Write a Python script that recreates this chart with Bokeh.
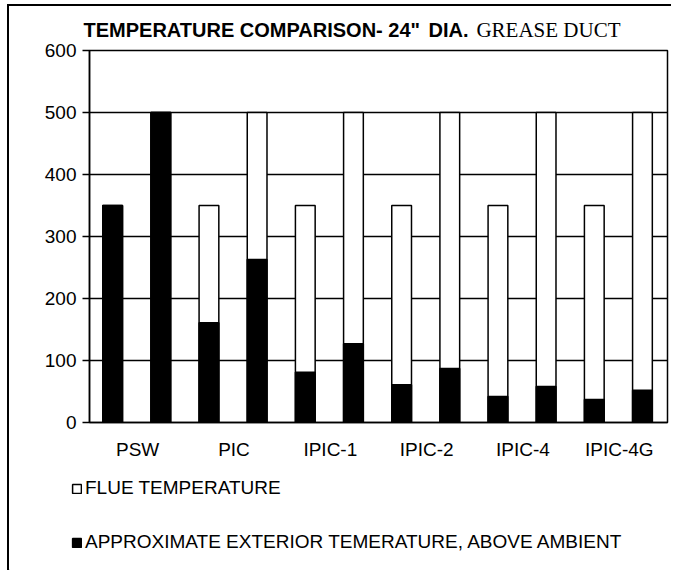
from bokeh.plotting import figure
from bokeh.layouts import column, row
from bokeh.models import FactorRange, Range1d, FixedTicker, Label, Legend, LegendItem, ColumnDataSource
from bokeh.transform import dodge
from bokeh.embed import file_html
from bokeh.resources import INLINE

categories = ["PSW", "PIC", "IPIC-1", "IPIC-2", "IPIC-4", "IPIC-4G"]
flue_temp_a = [350, 350, 350, 350, 350, 350]
flue_temp_b = [500, 500, 500, 500, 500, 500]
exterior_a = [350, 161, 81, 61, 42, 37]
exterior_b = [500, 263, 127, 87, 58, 52]
y_ticks = [0, 100, 200, 300, 400, 500, 600]
title_parts = ['TEMPERATURE COMPARISON- 24"', "DIA.", "GREASE DUCT"]
legend_labels = ["FLUE TEMPERATURE", "APPROXIMATE EXTERIOR TEMERATURE, ABOVE AMBIENT"]

W = 662
BL, BR = 80, 4
FONT = "Liberation Sans"


def blank(h):
    f = figure(width=W, height=h, x_range=Range1d(0, 1), y_range=Range1d(0, 1),
               output_backend="svg", toolbar_location=None, title=None,
               x_axis_location=None, y_axis_location=None,
               min_border=0,
               background_fill_color="white", border_fill_color="white")
    f.outline_line_color = None
    f.xgrid.grid_line_color = None
    f.ygrid.grid_line_color = None
    return f


# ---- title strip ----
TY = 12
t = blank(35)
t.add_layout(Label(x=74, y=TY, x_units="screen", y_units="screen", text=title_parts[0],
                   text_font=FONT, text_font_style="bold", text_font_size="20px",
                   text_color="black", text_baseline="alphabetic"))
t.add_layout(Label(x=419, y=TY, x_units="screen", y_units="screen", text=title_parts[1],
                   text_font=FONT, text_font_style="bold", text_font_size="20px",
                   text_color="black", text_baseline="alphabetic"))
t.add_layout(Label(x=611, y=TY, x_units="screen", y_units="screen", text=title_parts[2],
                   text_font="Liberation Serif", text_font_size="21px", text_color="black",
                   text_align="right", text_baseline="alphabetic"))

# ---- main chart ----
src = ColumnDataSource(dict(cat=categories, fa=flue_temp_a, fb=flue_temp_b, ea=exterior_a, eb=exterior_b))

p = figure(x_range=FactorRange(*categories, range_padding=0), y_range=Range1d(0, 600),
           width=W, height=429, output_backend="svg", toolbar_location=None, title=None,
           min_border_left=BL, min_border_top=9, min_border_right=BR, min_border_bottom=48,
           background_fill_color="white", border_fill_color="white")

bw = 0.205
off_a, off_b = -0.26, 0.24
bar_white = dict(fill_color="white", line_color="black", line_width=1.5)
bar_black = dict(fill_color="black", line_color="black", line_width=1.5)
p.vbar(x=dodge("cat", off_a, range=p.x_range), top="fa", width=bw, source=src, **bar_white)
p.vbar(x=dodge("cat", off_b, range=p.x_range), top="fb", width=bw, source=src, **bar_white)
p.vbar(x=dodge("cat", off_a, range=p.x_range), top="ea", width=bw, source=src, **bar_black)
p.vbar(x=dodge("cat", off_b, range=p.x_range), top="eb", width=bw, source=src, **bar_black)

p.xgrid.grid_line_color = None
p.ygrid.grid_line_color = "black"
p.ygrid.grid_line_width = 1.5
p.ygrid.ticker = FixedTicker(ticks=y_ticks)
p.outline_line_color = "black"
p.outline_line_width = 1.5

p.yaxis.ticker = FixedTicker(ticks=y_ticks)
p.yaxis.axis_line_color = "black"
p.yaxis.axis_line_width = 1.5
p.yaxis.major_tick_out = 7
p.yaxis.major_tick_in = 0
p.yaxis.major_tick_line_width = 1.5
p.yaxis.minor_tick_line_color = None
p.yaxis.major_label_standoff = 6
p.yaxis.major_label_text_font = FONT
p.yaxis.major_label_text_font_size = "19px"
p.yaxis.major_label_text_color = "black"

p.xaxis.axis_line_color = "black"
p.xaxis.axis_line_width = 1.5
p.xaxis.major_tick_line_color = None
p.xaxis.minor_tick_line_color = None
p.xaxis.major_label_standoff = 10
p.xaxis.major_label_text_font = FONT
p.xaxis.major_label_text_font_size = "19px"
p.xaxis.major_label_text_color = "black"

# ---- legend strip ----
lg = blank(100)
r_w = lg.vbar(x=[-5], top=[0], width=0.1, **bar_white)
r_b = lg.vbar(x=[-5], top=[0], width=0.1, **bar_black)
legend = Legend(items=[LegendItem(label=legend_labels[0], renderers=[r_w]),
                       LegendItem(label=legend_labels[1], renderers=[r_b])],
                location=(62, 17), orientation="vertical", border_line_color=None,
                background_fill_alpha=0, padding=0, margin=0, spacing=32,
                glyph_width=11, glyph_height=11, label_standoff=3, label_height=20,
                label_text_font=FONT, label_text_font_size="19px",
                label_text_color="black")
lg.add_layout(legend, "center")

layout = column(row(t), p, row(lg), spacing=0, margin=(4, 0, 0, 7),
                styles={"border-left": "2px solid black", "border-top": "2px solid black"})

open("out.html", "w").write(file_html(layout, INLINE))
